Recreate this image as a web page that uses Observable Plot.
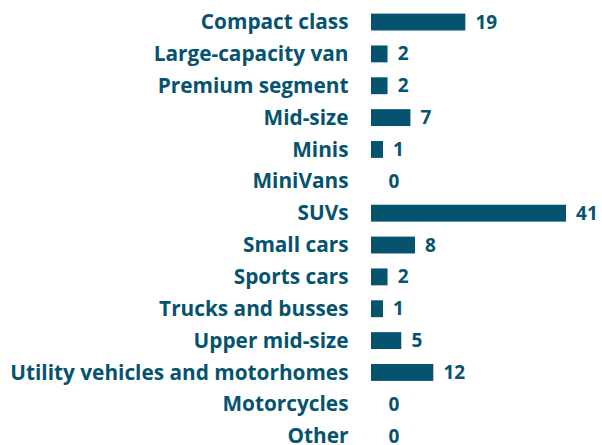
<!DOCTYPE html>
<html>
<head>
<meta charset="utf-8">
<script src="https://cdn.jsdelivr.net/npm/d3@7"></script>
<script src="https://cdn.jsdelivr.net/npm/@observablehq/plot@0.6"></script>
<style>
  html, body { margin: 0; padding: 0; background: #fff; }
  #chart svg { display: block; }
</style>
</head>
<body>
<div id="chart"></div>
<script>
const categories = [
  "Compact class", "Large-capacity van", "Premium segment", "Mid-size", "Minis",
  "MiniVans", "SUVs", "Small cars", "Sports cars", "Trucks and busses",
  "Upper mid-size", "Utility vehicles and motorhomes", "Motorcycles", "Other"
];
const values = [19, 2, 2, 7, 1, 0, 41, 8, 2, 1, 5, 12, 0, 0];

const data = categories.map((c, i) => ({category: c, value: values[i]}));
const color = "#05536e";
const font = "'Open Sans', 'Noto Sans', sans-serif";

const chart = Plot.plot({
  width: 602,
  height: 445,
  marginLeft: 378.4,
  marginRight: 36,
  marginTop: 13.6,
  marginBottom: 0.4,
  style: {fontFamily: font, background: "#fff"},
  x: {domain: [0, 41], axis: null},
  y: {domain: categories, paddingInner: 0.47, paddingOuter: 0, round: false, axis: null},
  marks: [
    Plot.barX(data.filter(d => d.value > 0), {x: "value", y: "category", fill: color, insetLeft: -7.4}),
    Plot.text(data, {x: "value", y: "category", text: d => String(d.value), dx: 9.6,
      textAnchor: "start", fill: color, fontSize: 19, fontWeight: "bold"}),
    Plot.axisY({tickSize: 0, tickPadding: 30.4, fontSize: 20.8, fontWeight: "bold", fill: color, label: null})
  ]
});
document.getElementById("chart").append(chart);
</script>
</body>
</html>
